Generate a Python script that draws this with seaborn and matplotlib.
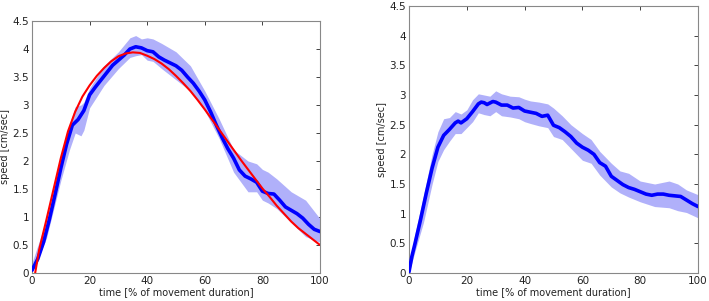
import numpy as np
import pandas as pd
import matplotlib
matplotlib.use("Agg")
import matplotlib.pyplot as plt
import seaborn as sns

# ---- Left panel: mean speed (blue), band, model fit (red) ----
left_x = [0, 2, 4, 6, 8, 10, 12, 14, 16, 18, 20, 22, 24, 26, 28, 30, 32, 34, 36, 38,
          40, 42, 44, 46, 48, 50, 52, 54, 56, 58, 60, 62, 64, 66, 68, 70, 72, 74, 76, 78,
          80, 82, 84, 86, 88, 90, 92, 94, 96, 98, 100]
left_mean = [0.05, 0.25, 0.55, 0.95, 1.40, 1.87, 2.30, 2.64, 2.74, 2.90, 3.18, 3.32, 3.45, 3.58, 3.71, 3.80, 3.89, 4.00, 4.04, 4.02,
             3.97, 3.95, 3.86, 3.80, 3.75, 3.70, 3.62, 3.50, 3.39, 3.25, 3.09, 2.88, 2.64, 2.42, 2.22, 2.05, 1.84, 1.73, 1.68, 1.62,
             1.46, 1.42, 1.41, 1.30, 1.18, 1.12, 1.06, 0.98, 0.87, 0.78, 0.74]

left_band_x = [0, 5, 10, 13, 15, 17, 18, 20, 25, 30, 34, 36, 38, 40, 42, 45, 50, 55, 60, 65,
               70, 75, 78, 80, 82, 85, 90, 95, 100]
left_upper = [0.18, 0.95, 2.05, 2.65, 2.97, 3.00, 3.05, 3.30, 3.70, 3.95, 4.20, 4.24, 4.18, 4.20, 4.18, 4.10, 3.95, 3.70, 3.25, 2.75,
              2.20, 2.00, 1.95, 1.85, 1.80, 1.68, 1.45, 1.30, 0.97]
left_lower = [0.00, 0.62, 1.65, 2.20, 2.50, 2.45, 2.55, 2.95, 3.35, 3.65, 3.85, 3.88, 3.90, 3.80, 3.78, 3.65, 3.45, 3.25, 2.90, 2.40,
              1.80, 1.45, 1.45, 1.30, 1.25, 1.15, 0.90, 0.65, 0.55]

fit_x = [1.1, 2.5, 5, 7.5, 10, 12.5, 15, 17.5, 20, 22.5, 25, 27.5, 30, 32.5, 35, 37.5, 40, 42.5, 45, 47.5,
         50, 52.5, 55, 57.5, 60, 62.5, 65, 67.5, 70, 72.5, 75, 77.5, 80, 82.5, 85, 87.5, 90, 92.5, 95, 97.5, 100]
fit_y = [0.00, 0.42, 0.95, 1.50, 2.05, 2.53, 2.88, 3.15, 3.35, 3.52, 3.66, 3.78, 3.87, 3.92, 3.94, 3.93, 3.88, 3.82, 3.74, 3.64,
         3.52, 3.39, 3.25, 3.09, 2.92, 2.74, 2.56, 2.38, 2.20, 2.02, 1.85, 1.68, 1.51, 1.36, 1.20, 1.06, 0.92, 0.80, 0.70, 0.60, 0.50]

# ---- Right panel: mean speed (blue) and band ----
right_x = [0, 1, 2, 4, 6, 8, 10, 12, 14, 16, 17, 18, 20, 22, 24, 25, 26, 27, 29, 30,
           32, 34, 36, 38, 40, 42, 44, 46, 48, 50, 52, 54, 56, 58, 60, 62, 64, 66, 68, 70,
           72, 74, 76, 78, 80, 82, 84, 86, 88, 90, 92, 94, 96, 98, 100]
right_mean = [0.02, 0.28, 0.48, 0.90, 1.35, 1.77, 2.12, 2.32, 2.42, 2.53, 2.56, 2.53, 2.60, 2.72, 2.85, 2.88, 2.87, 2.84, 2.89, 2.88,
              2.83, 2.83, 2.78, 2.79, 2.73, 2.71, 2.69, 2.64, 2.66, 2.49, 2.45, 2.38, 2.30, 2.19, 2.12, 2.07, 2.00, 1.86, 1.80, 1.63,
              1.56, 1.49, 1.44, 1.41, 1.37, 1.33, 1.31, 1.33, 1.33, 1.31, 1.30, 1.29, 1.23, 1.17, 1.12]

right_band_x = [0, 2, 5, 8, 10, 12, 14, 16, 18, 20, 22, 24, 26, 28, 30, 32, 35, 38, 40, 42,
                45, 48, 50, 53, 56, 60, 63, 66, 70, 73, 76, 80, 85, 90, 93, 96, 100]
right_upper = [0.10, 0.65, 1.30, 2.00, 2.38, 2.60, 2.62, 2.72, 2.68, 2.75, 2.92, 3.02, 3.00, 2.98, 3.07, 3.02, 2.98, 2.97, 2.93, 2.90,
               2.88, 2.85, 2.78, 2.65, 2.50, 2.35, 2.25, 2.05, 1.85, 1.72, 1.68, 1.55, 1.50, 1.55, 1.50, 1.40, 1.32]
right_lower = [0.00, 0.35, 0.85, 1.50, 1.88, 2.08, 2.22, 2.35, 2.35, 2.45, 2.55, 2.70, 2.67, 2.65, 2.72, 2.65, 2.63, 2.60, 2.55, 2.52,
               2.48, 2.45, 2.30, 2.25, 2.10, 1.90, 1.85, 1.65, 1.45, 1.35, 1.28, 1.20, 1.12, 1.10, 1.05, 1.02, 0.93]

xlabel = "time [% of movement duration]"
ylabel = "speed [cm/sec]"
xticks = [0, 20, 40, 60, 80, 100]
yticks = [0, 0.5, 1, 1.5, 2, 2.5, 3, 3.5, 4, 4.5]
ytick_labels = ["0", "0.5", "1", "1.5", "2", "2.5", "3", "3.5", "4", "4.5"]

sns.set_style("white")
plt.rcParams["font.family"] = ["DejaVu Sans"]

W, H = 709, 301
fig = plt.figure(figsize=(W / 100, H / 100), dpi=100)
axL = fig.add_axes([32 / W, (H - 273) / H, 288 / W, 252 / H])
axR = fig.add_axes([409 / W, (H - 273) / H, 289 / W, 267 / H])

band_col = "#b0b0fa"
blue = "#0000ff"
red = "#ff0000"

# Left
axL.fill_between(left_band_x, left_lower, left_upper, color=band_col, lw=0, zorder=1)
sns.lineplot(x=left_x, y=left_mean, ax=axL, color=blue, lw=2.6, zorder=3)
sns.lineplot(x=fit_x, y=fit_y, ax=axL, color=red, lw=1.5, zorder=4)

# Right
axR.fill_between(right_band_x, right_lower, right_upper, color=band_col, lw=0, zorder=1)
sns.lineplot(x=right_x, y=right_mean, ax=axR, color=blue, lw=2.6, zorder=3)

for ax in (axL, axR):
    ax.set_xlim(0, 100)
    ax.set_ylim(0, 4.5)
    ax.set_xticks(xticks)
    ax.set_yticks(yticks)
    ax.set_yticklabels(ytick_labels)
    ax.tick_params(direction="in", length=3, width=0.6, colors="#222222",
                   labelsize=7.5, top=True, right=True, pad=2)
    for s in ax.spines.values():
        s.set_visible(True)
        s.set_color("#888888")
        s.set_linewidth(0.8)
    ax.set_xlabel(xlabel, fontsize=7, color="#222222", labelpad=1)
    ax.set_ylabel(ylabel, fontsize=7, color="#222222", labelpad=2)

fig.savefig("out.png", dpi=100)
